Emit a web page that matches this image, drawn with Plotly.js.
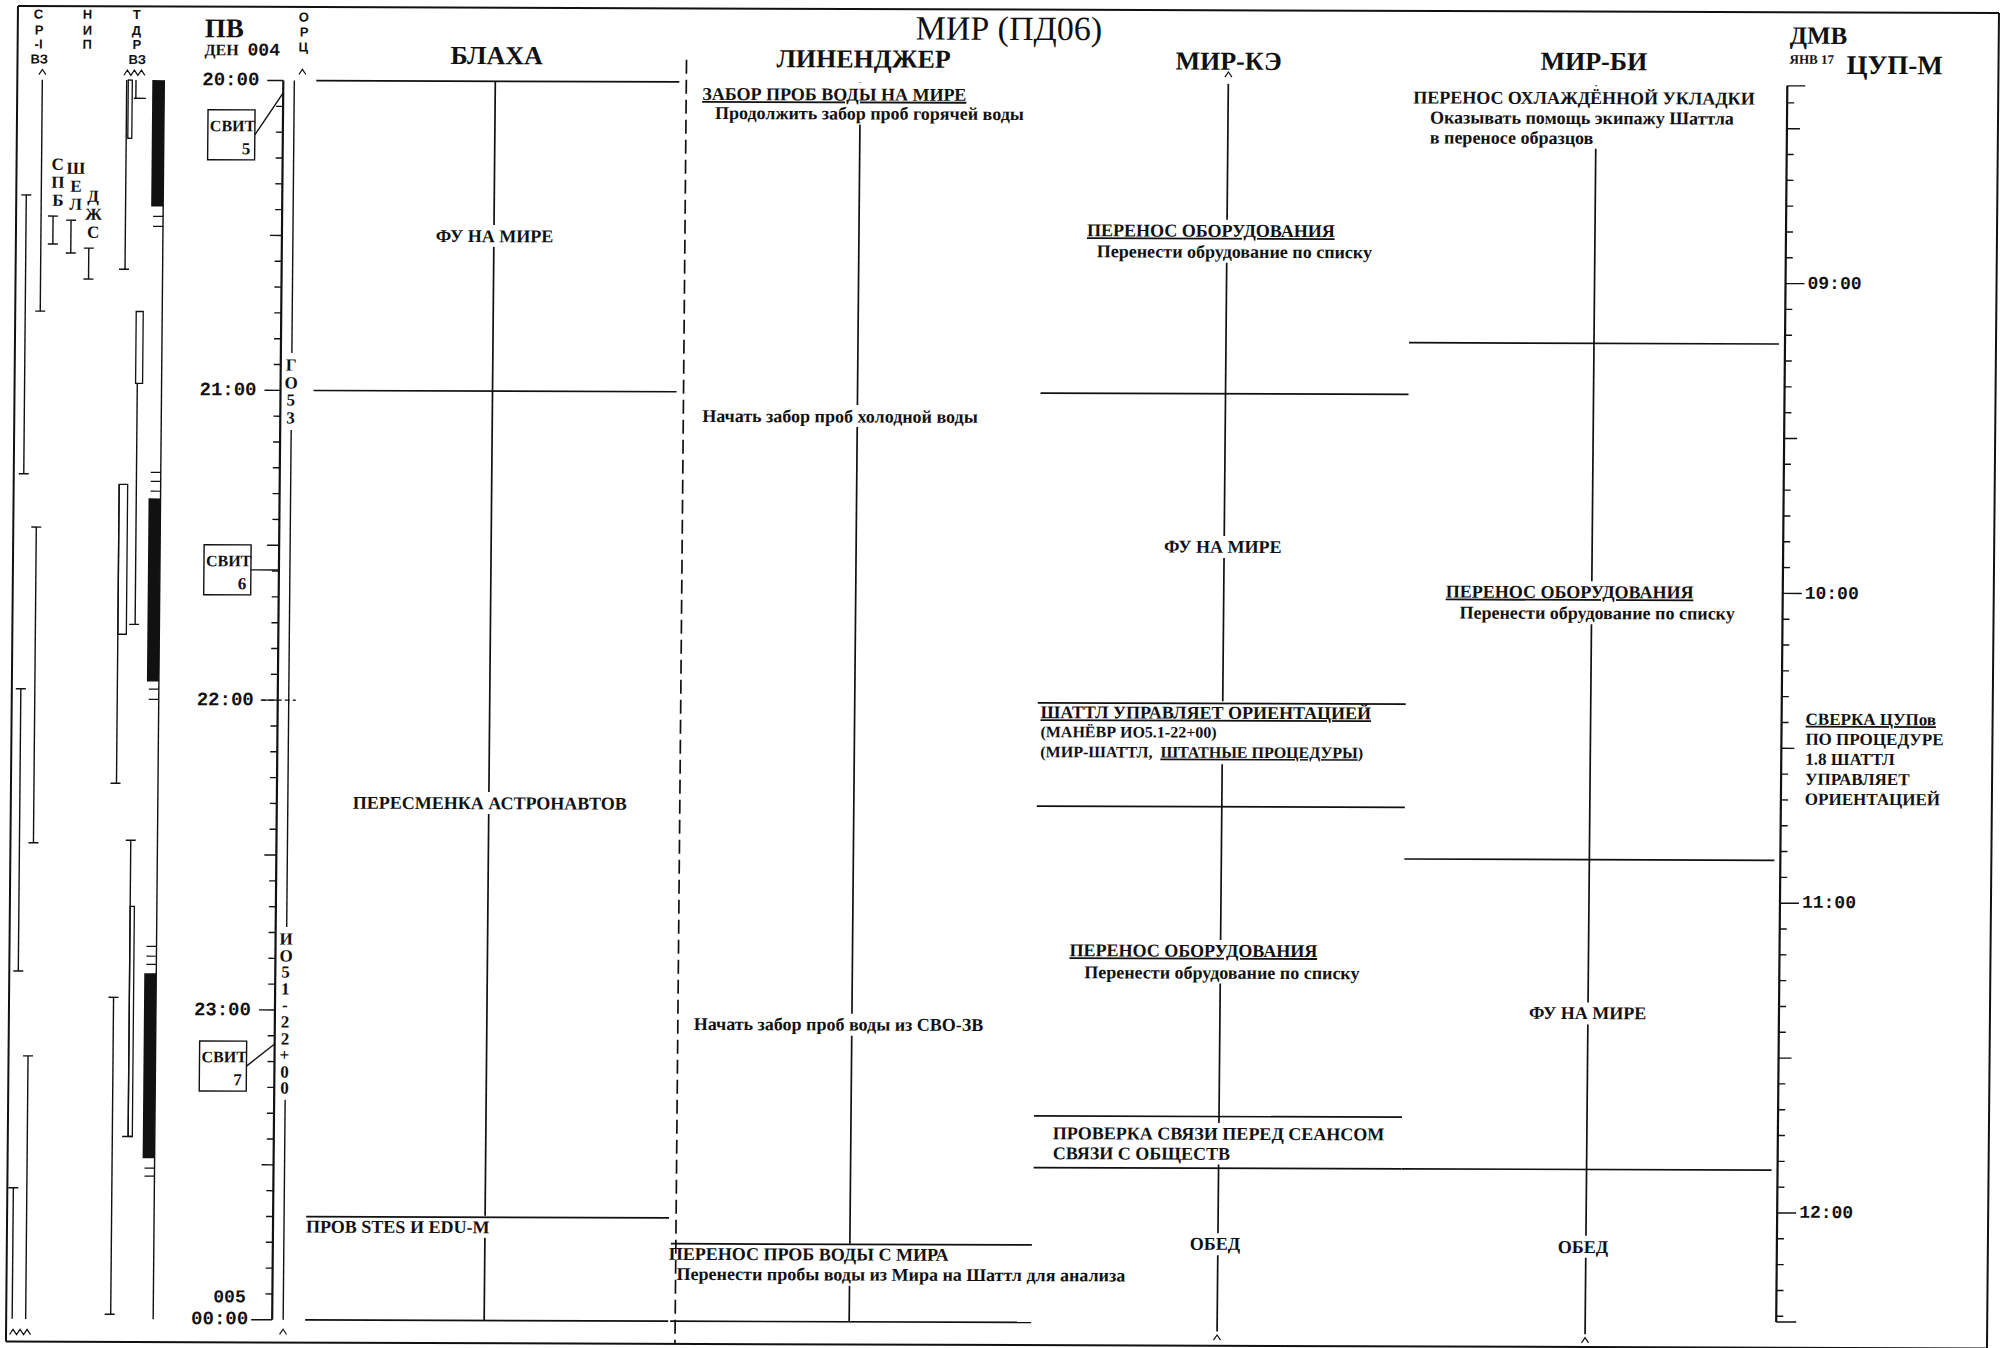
<!DOCTYPE html>
<html>
<head>
<meta charset="utf-8">
<script src="https://cdn.plot.ly/plotly-3.0.1.min.js"></script>
<style>
html, body { margin: 0; padding: 0; background: #fff; overflow: hidden; width: 2005px; height: 1348px; }
#chart { position: absolute; left: -10px; top: -10px; width: 2025px; height: 1368px;
         transform: matrix(1, 0.0035, -0.009, 1, 0, 0); transform-origin: 1012px 684px; }
</style>
</head>
<body>
<div id="chart"></div>
<script>
// ======================= DATA =======================
// Time is ПВ hours: 20 = 20:00 (ДЕН 004) ... 24 = 00:00 (ДЕН 005)
const pvHourTicks  = [20, 21, 22, 23, 24];
const pvHourLabels = ['20:00', '21:00', '22:00', '23:00', '00:00'];
const cupHourTicks  = [9, 10, 11, 12];                 // ЦУП-М clock
const cupHourLabels = ['09:00', '10:00', '11:00', '12:00'];
const cupOffset = 11 + 38.3 / 60;                      // ПВ − ЦУП-М (hours)

const crewNames = ['БЛАХА', 'ЛИНЕНДЖЕР', 'МИР-КЭ', 'МИР-БИ'];

const blakhaBounds = [20, 21, 23 + 40 / 60, 24];
const blakhaTasks  = ['ФУ НА МИРЕ', 'ПЕРЕСМЕНКА АСТРОНАВТОВ', 'ПРОВ STES И EDU-M'];

const linengerBounds = [20, 23.75, 24];
const linengerTasks  = ['ЗАБОР ПРОБ ВОДЫ НА МИРЕ', 'ПЕРЕНОС ПРОБ ВОДЫ С МИРА'];
const linengerNotes  = ['Продолжить забор проб горячей воды', 'Перенести пробы воды из Мира на Шаттл для анализа'];
const linengerStepHours = [21.07, 23.035];
const linengerSteps     = ['Начать забор проб холодной воды', 'Начать забор проб воды из СВО-ЗВ'];

const mirKeBounds = [20, 21, 22, 22 + 20 / 60, 23 + 20 / 60, 23.5, 24];
const mirKeTasks  = ['ПЕРЕНОС ОБОРУДОВАНИЯ', 'ФУ НА МИРЕ', 'ШАТТЛ УПРАВЛЯЕТ ОРИЕНТАЦИЕЙ',
                     'ПЕРЕНОС ОБОРУДОВАНИЯ', 'ПРОВЕРКА СВЯЗИ ПЕРЕД СЕАНСОМ', 'ОБЕД'];
const mirKeNotes  = [['Перенести обрудование по списку'], [],
                     ['(МАНЁВР ИО5.1-22+00)', '(МИР-ШАТТЛ,  <span style="text-decoration:underline">ШТАТНЫЕ ПРОЦЕДУРЫ</span>)'],
                     ['Перенести обрудование по списку'], ['СВЯЗИ С ОБЩЕСТВ'], []];

const mirBiBounds = [20, 20 + 50 / 60, 22.5, 23.5, 24];
const mirBiTasks  = ['ПЕРЕНОС ОХЛАЖДЁННОЙ УКЛАДКИ', 'ПЕРЕНОС ОБОРУДОВАНИЯ', 'ФУ НА МИРЕ', 'ОБЕД'];
const mirBiNotes  = [['Оказывать помощь экипажу Шаттла', 'в переносе образцов'],
                     ['Перенести обрудование по списку'], [], []];

const cupNoteHour  = 22.0;
const cupNoteLines = ['СВЕРКА ЦУПов', 'ПО ПРОЦЕДУРЕ', '1.8 ШАТТЛ', 'УПРАВЛЯЕТ', 'ОРИЕНТАЦИЕЙ'];

// communication coverage strip (ПВ hours)
const srVzStart = [20.0, 20.372, 21.444, 21.966, 23.151, 23.577];
const srVzEnd   = [20.747, 21.272, 22.463, 22.877, 24.0, 24.0];
const stationNames = ['СПБ', 'ШЕЛ', 'ДЖС'];
const stationStart = [20.440, 20.453, 20.543];
const stationEnd   = [20.530, 20.559, 20.643];
const tdrsPassStart = [20.0, 20.0, 20.979, 21.305, 22.454, 22.961];
const tdrsPassEnd   = [20.059, 20.611, 21.757, 22.270, 23.410, 23.984];
const tdrsDoubleStart = [20.0, 20.747, 21.305, 22.667];
const tdrsDoubleEnd   = [20.188, 20.979, 21.789, 23.410];
const blackoutStart = [20.0, 21.350, 22.883];
const blackoutEnd   = [20.408, 21.941, 23.480];
const markerHours = [20.440, 20.472, 21.266, 21.295, 21.327, 21.966, 21.999,
                     22.796, 22.828, 22.854, 23.512, 23.538];
const orcStart  = [20.0, 21.128, 23.290];
const orcEnd    = [20.879, 22.732, 24.0];
const orcLabels = ['ГО53', 'ИО51-22+00'];
const svitNumbers = ['5', '6', '7'];
const svitHours   = [20.04, 21.58, 23.11];
const svitBoxTop  = [20.095, 21.499, 23.101];

// ======================= LAYOUT HELPERS =======================
const PXH = 309.8, Y20 = 83.1;                 // pixels per hour, pixel row of 20:00
const yh = px => 20 + (px - Y20) / PXH;       // page pixel row -> ПВ hour
const dh = px => px / PXH;
const SK = 0.0037, XC = 1002;                  // placement compensation for the sheet's skew
const yp = (px, x) => yh(px + SK * (x - XC));
const comp = x => 2.7 + SK * (x - XC);
const mid = (b, i) => (b[i] + b[i + 1]) / 2;
const SERIF = 'Liberation Serif, Times New Roman, serif';
const MONO  = 'Liberation Mono, Courier New, monospace';
const SANS  = 'Liberation Sans, Arial, sans-serif';
const INK = '#111';
const U = s => '<span style="text-decoration:underline">' + s + '</span>';

const styles = {
  frame:    {width: 2,   color: INK},
  main:     {width: 1.7, color: INK},
  axis:     {width: 2.2, color: INK},
  tick:     {width: 1.4, color: INK},
  fine:     {width: 1.2, color: INK},
  dash:     {width: 1.7, color: INK, dash: '14px,6px'},
  dashtick: {width: 1.3, color: INK, dash: '5px,3px'}
};
const groups = {};
Object.keys(styles).forEach(k => groups[k] = {x: [], y: []});
function seg(g, x0, h0, x1, h1) {
  groups[g].x.push(x0, x1, null); groups[g].y.push(h0, h1, null);
}
function poly(g, xs, hs) {
  groups[g].x.push(...xs, null); groups[g].y.push(...hs, null);
}
const shapes = [], annotations = [];
const gaps = {blakha: [], linenger: [], mirKe: [], mirBi: []};
function txt(x, h, text, o = {}) {
  if (o.comp) h += dh(comp(x + (o.xa ? 0 : 120)));
  annotations.push({
    x: x, y: h, xref: 'x', yref: 'y', text: text, showarrow: false,
    xanchor: o.xa || 'left', yanchor: o.ya || 'middle', borderpad: 0,
    font: {family: o.fam || SERIF, size: o.size || 18, color: INK, weight: o.w || 'bold'}
  });
  if (o.cut) gaps[o.cut].push([h - dh(o.half || 11), h + dh(o.half || 11)]);
}
function vline(g, x, h0, h1, gl) {
  const gs = (gl || []).slice().sort((a, b) => a[0] - b[0]);
  let cur = h0;
  for (const [a, b] of gs) {
    if (b <= cur) continue;
    if (a > cur) seg(g, x, cur, x, Math.min(a, h1));
    cur = Math.max(cur, b);
    if (cur >= h1) return;
  }
  if (cur < h1) seg(g, x, cur, x, h1);
}
function squig(xc, ypx, n, w = 7, a = 2.6) {
  const xs = [], hs = [];
  const x0 = xc - n * w / 2;
  for (let i = 0; i <= n * 2; i++) { xs.push(x0 + i * w / 2); hs.push(yp(ypx + (i % 2 ? -a : a), xc)); }
  poly('fine', xs, hs);
}

const colLayout = {
  blakha:   {cx: 490,  x0: 311,  x1: 674},
  linenger: {cx: 855,  x0: 676,  x1: 1037},
  mirKe:    {cx: 1223, x0: 1038, x1: 1406},
  mirBi:    {cx: 1591, x0: 1406, x1: 1776}
};

// ======================= FRAME & HEADERS =======================
seg('frame', 12, yh(9.5), 1993, yh(9.5));
seg('frame', 12, yh(9.5), 12, yh(1345));
seg('frame', 1993, yh(9.5), 1993, yh(1345));
seg('frame', 12, yh(1345), 1993, yh(1345));

const headerX = [491, 858, 1223, 1588];
const headerY = [59, 60, 60, 57.5];
crewNames.forEach((n, i) => txt(headerX[i], yp(headerY[i], headerX[i]), n, {xa: 'center', size: 26}));

txt(198, yp(34, 198), 'ПВ', {size: 27});
txt(198, yp(56, 198), 'ДЕН', {size: 16});
txt(241, yp(56, 241), '004', {size: 18, fam: MONO});
txt(1783, yp(30, 1783), 'ДМВ', {size: 25});
txt(1783, yp(54, 1783), 'ЯНВ 17', {size: 13});
txt(1840, yp(59, 1840), 'ЦУП-М', {size: 27});

function stackLetters(x, ys, chars, size, fam) {
  chars.forEach((c, i) => txt(x, yp(ys[i], x), c, {xa: 'center', size: size, fam: fam}));
}
stackLetters(33, [21, 37, 51, 66], ['С', 'Р', '-I', 'ВЗ'], 13, SANS);
stackLetters(81, [21, 37, 51], ['Н', 'И', 'П'], 13, SANS);
stackLetters(131, [21, 37, 51, 66], ['Т', 'Д', 'Р', 'ВЗ'], 13, SANS);
stackLetters(298, [22, 37, 52], ['О', 'Р', 'Ц'], 13, SANS);

squig(37, 79, 1); squig(129, 79, 3); squig(297, 77, 1); squig(1223, 73, 1);
squig(26, 1339, 3); squig(289, 1337, 1); squig(1223, 1336, 1); squig(1591, 1336, 1);

// ======================= LEFT STRIP =======================
const srVzX = [37, 22, 35, 21, 31.5, 18];
srVzStart.forEach((s, i) => {
  const x = srVzX[i], e = srVzEnd[i];
  seg('tick', x, s, x, e);
  if (s > 20.001) seg('tick', x - 5, s, x + 5, s);
  if (e < 23.999) seg('tick', x - 5, e, x + 5, e);
});
const stationX = [49, 67, 85];
stationNames.forEach((n, i) => {
  const x = stationX[i], s = stationStart[i], e = stationEnd[i];
  seg('tick', x, s, x, e); seg('tick', x - 5, s, x + 5, s); seg('tick', x - 5, e, x + 5, e);
  [...n].forEach((c, k) => txt(x + 4, s - dh(52 - 18 * k), c, {xa: 'center', size: 17}));
});
const tdrsPassX = [130.7, 121.4, 134.7, 117.5, 132.3, 116.5];
const tdrsCapTop = [false, false, false, false, true, true];
tdrsPassStart.forEach((s, i) => {
  const x = tdrsPassX[i], e = tdrsPassEnd[i];
  seg('tick', x, s, x, e);
  if (tdrsCapTop[i]) seg('tick', x - 5, s, x + 5, s);
  seg('tick', i === 0 ? x - 2 : x - 6, e, i === 0 ? x + 10 : x + 4, e);
});
const tdrsDoubleX = [[123, 127], [133, 140], [117.5, 126], [132.3, 136.5]];
tdrsDoubleStart.forEach((s, i) => {
  shapes.push({type: 'rect', xref: 'x', yref: 'y', x0: tdrsDoubleX[i][0], x1: tdrsDoubleX[i][1],
               y0: s, y1: tdrsDoubleEnd[i], line: {color: INK, width: 1.3}, fillcolor: 'rgba(0,0,0,0)'});
});
blackoutStart.forEach((s, i) => {
  shapes.push({type: 'rect', xref: 'x', yref: 'y', x0: 147, x1: 159, y0: s, y1: blackoutEnd[i],
               line: {width: 0}, fillcolor: INK});
});
seg('tick', 159, 20.0, 159, 24.0);
markerHours.forEach(h => seg('fine', 149, h, 159, h));

// ======================= ПВ AXIS =======================
const PVX = 278;
seg('axis', PVX, 20, PVX, 24);
for (let m = 0; m <= 48; m++) {
  const h = 20 + m * 5 / 60;
  const len = m === 48 ? 21 : (m % 12 === 0 ? 16 : (m % 6 === 0 ? 12 : 7));
  seg('tick', PVX - len, h, PVX, h);
}
seg('dashtick', PVX - 17, 22, 296, 22);
pvHourTicks.forEach((h, i) => txt(255, h, pvHourLabels[i], {xa: 'right', fam: MONO, size: 19}));
txt(252, 24 - dh(22), '005', {xa: 'right', fam: MONO, size: 18});

// ОРЦ column
const ORCX = 289;
orcStart.forEach((s, i) => seg('tick', ORCX, s, ORCX, orcEnd[i]));
orcLabels.forEach((lab, i) => {
  const step = i === 0 ? 17.7 : 16.6;
  [...lab].forEach((c, k) => txt(ORCX - 1, orcEnd[i] + dh(12 + step * k), c, {xa: 'center', size: 17}));
});

// СВИТ call-outs
svitNumbers.forEach((n, i) => {
  const top = svitBoxTop[i], bot = top + dh(50), x0 = 203, x1 = 250;
  shapes.push({type: 'rect', xref: 'x', yref: 'y', x0: x0, x1: x1, y0: top, y1: bot,
               line: {color: INK, width: 1.4}, fillcolor: 'rgba(0,0,0,0)'});
  txt(x0 + 1, top + dh(16), 'СВИТ', {size: 16});
  txt(x1 - 3, bot - dh(11), n, {xa: 'right', size: 17});
  seg('tick', x1, (top + bot) / 2, PVX, svitHours[i]);
});

// ======================= ЦУП-М AXIS =======================
const CUPX = 1782;
seg('axis', CUPX, 20.0, CUPX, 23.99);
seg('tick', CUPX, 20.0, CUPX + 18, 20.0);
seg('tick', CUPX, 23.99, CUPX + 20, 23.99);
for (let cm = 8 * 60 + 20; cm <= 12 * 60 + 20; cm += 5) {
  const h = cm / 60 + cupOffset;
  if (h < 20.01 || h > 23.98) continue;
  const len = cm % 60 === 0 ? 19 : (cm % 30 === 0 ? 13 : 7);
  seg('tick', CUPX, h, CUPX + len, h);
}
cupHourTicks.forEach((c, i) => txt(CUPX + 21, c + cupOffset, cupHourLabels[i], {fam: MONO, size: 18}));
cupNoteLines.forEach((l, i) => txt(1805, cupNoteHour + dh(8 + 20 * i), i === 0 ? U(l) : l, {size: 17, comp: true}));

// ======================= CREW COLUMNS =======================
function hlines(key, bounds, skipFirst, skipLast) {
  const c = colLayout[key];
  bounds.forEach((b, i) => {
    if (skipFirst && i === 0) return;
    if (skipLast && i === bounds.length - 1) return;
    seg('main', c.x0, b, c.x1, b);
  });
}
hlines('blakha', blakhaBounds, false, false);
hlines('linenger', linengerBounds, true, false);
hlines('mirKe', mirKeBounds, true, true);
hlines('mirBi', mirBiBounds, true, true);

const C = {comp: true};
// БЛАХА
txt(490, mid(blakhaBounds, 0) - dh(1), blakhaTasks[0], {...C, xa: 'center', cut: 'blakha'});
txt(491, mid(blakhaBounds, 1) - dh(2), blakhaTasks[1], {...C, xa: 'center', cut: 'blakha'});
txt(310, blakhaBounds[2] + dh(9), blakhaTasks[2], {...C, cut: 'blakha'});

// ЛИНЕНДЖЕР
txt(696, linengerBounds[0] + dh(9.5), U(linengerTasks[0]), {...C, cut: 'linenger'});
txt(709, linengerBounds[0] + dh(29), linengerNotes[0], {...C, cut: 'linenger'});
txt(699, linengerStepHours[0], linengerSteps[0], {...C, cut: 'linenger'});
txt(696, linengerStepHours[1], linengerSteps[1], {...C, cut: 'linenger'});
txt(673, linengerBounds[1] + dh(8.5), linengerTasks[1], {...C, cut: 'linenger'});
txt(681, linengerBounds[1] + dh(28.5), linengerNotes[1], {...C, cut: 'linenger'});

// МИР-КЭ
txt(1082, mid(mirKeBounds, 0) - dh(11.5), U(mirKeTasks[0]), {...C, cut: 'mirKe'});
txt(1092, mid(mirKeBounds, 0) + dh(9.5), mirKeNotes[0][0], {...C, cut: 'mirKe'});
txt(1221, mid(mirKeBounds, 1) - dh(5), mirKeTasks[1], {...C, xa: 'center', cut: 'mirKe'});
txt(1040, mirKeBounds[2] + dh(5.5), U(mirKeTasks[2]), {...C, cut: 'mirKe'});
mirKeNotes[2].forEach((n, k) => txt(1040, mirKeBounds[2] + dh(26.5 + 20 * k), n, {...C, size: 16, cut: 'mirKe'}));
txt(1071, mid(mirKeBounds, 3) - dh(14), U(mirKeTasks[3]), {...C, cut: 'mirKe'});
txt(1086, mid(mirKeBounds, 3) + dh(7.5), mirKeNotes[3][0], {...C, cut: 'mirKe'});
txt(1056, mirKeBounds[4] + dh(14), mirKeTasks[4], {...C, cut: 'mirKe'});
txt(1056, mirKeBounds[4] + dh(33.5), mirKeNotes[4][0], {...C, cut: 'mirKe'});
txt(1220, mid(mirKeBounds, 5) - dh(5), mirKeTasks[5], {...C, xa: 'center', cut: 'mirKe'});

// МИР-БИ
txt(1407, mirBiBounds[0] + dh(7.5), mirBiTasks[0], {...C, cut: 'mirBi'});
mirBiNotes[0].forEach((n, k) => txt(1424, mirBiBounds[0] + dh(28 + 20 * k), n, {...C, cut: 'mirBi'}));
txt(1444, mid(mirBiBounds, 1) - dh(14), U(mirBiTasks[1]), {...C, cut: 'mirBi'});
txt(1458, mid(mirBiBounds, 1) + dh(7), mirBiNotes[1][0], {...C, cut: 'mirBi'});
txt(1590, mid(mirBiBounds, 2) - dh(6), mirBiTasks[2], {...C, xa: 'center', cut: 'mirBi'});
txt(1588, mid(mirBiBounds, 3) - dh(5), mirBiTasks[3], {...C, xa: 'center', cut: 'mirBi'});

// centre lines and separator
vline('main', colLayout.blakha.cx, 20, 24, gaps.blakha);
vline('main', colLayout.linenger.cx, 20, 24, gaps.linenger);
vline('main', colLayout.mirKe.cx, 20, yp(1330, 1223), gaps.mirKe);
vline('main', colLayout.mirBi.cx, 20, yp(1330, 1591), gaps.mirBi);
seg('dash', 681, yp(62, 681), 681, yh(1345));

// ======================= RENDER =======================
const traces = Object.keys(styles).map(k => ({
  type: 'scatter', mode: 'lines', x: groups[k].x, y: groups[k].y,
  line: styles[k], hoverinfo: 'skip', showlegend: false
}));
const layout = {
  width: 2025, height: 1368,
  margin: {l: 0, r: 0, t: 0, b: 0, pad: 0},
  paper_bgcolor: '#fff', plot_bgcolor: '#fff', showlegend: false,
  title: {text: 'МИР (ПД06)', font: {family: SERIF, size: 34, color: INK},
          x: 1013 / 2025, xanchor: 'center', xref: 'paper',
          y: 1 - 38 / 1368, yanchor: 'middle', yref: 'container'},
  xaxis: {range: [-10, 2015], visible: false, fixedrange: true},
  yaxis: {range: [yh(1358), yh(-10)], visible: false, fixedrange: true},
  shapes: shapes, annotations: annotations
};
Plotly.newPlot('chart', traces, layout, {staticPlot: true, displayModeBar: false});
</script>
</body>
</html>
